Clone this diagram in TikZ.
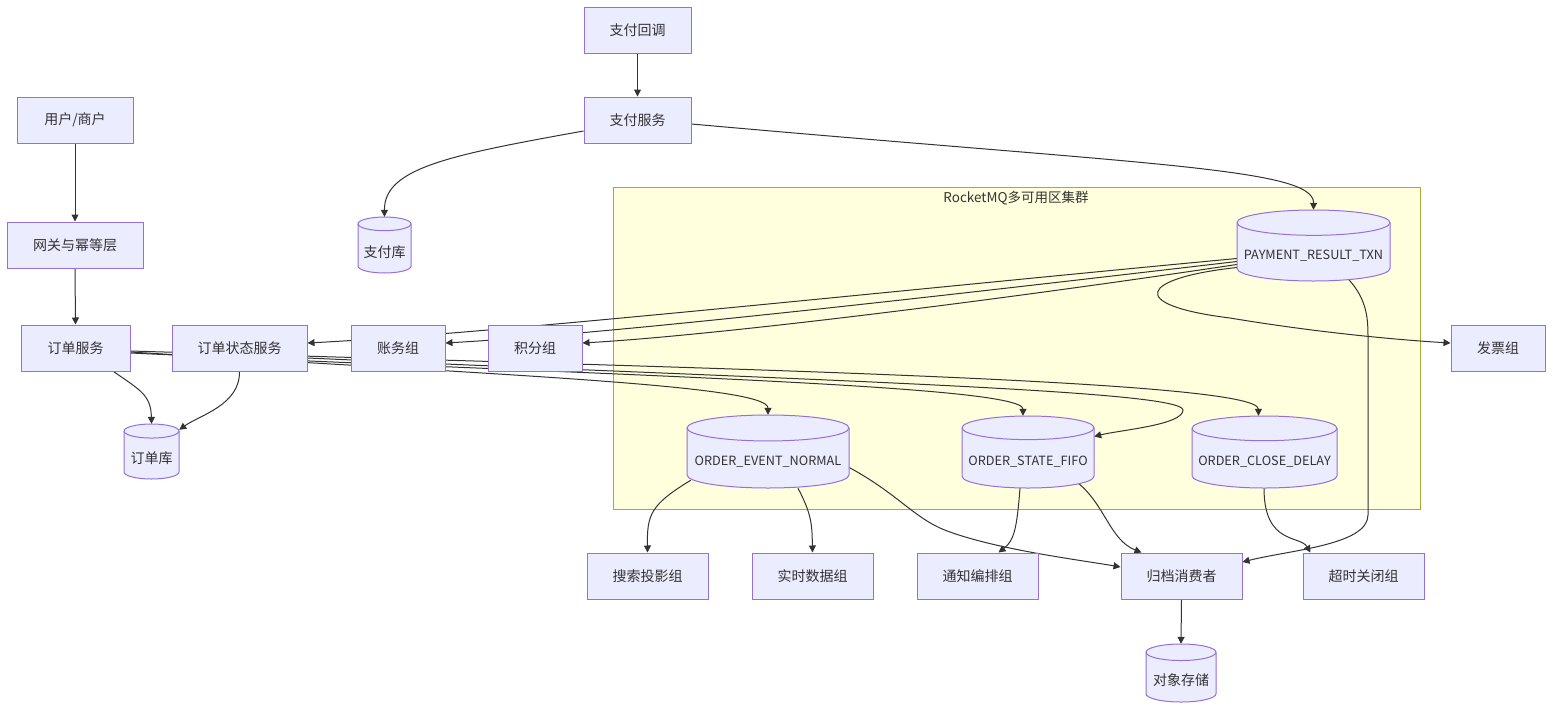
\documentclass[tikz,border=0pt]{standalone}
\usepackage{fontspec}
\setmainfont{Noto Sans CJK SC}
\usetikzlibrary{arrows.meta,calc}
\definecolor{nodefill}{HTML}{ECECFF}
\definecolor{nodeline}{HTML}{9370DB}
\definecolor{clfill}{HTML}{FFFFDE}
\definecolor{clline}{HTML}{AAAA33}
\definecolor{ink}{HTML}{333333}
\pgfdeclarelayer{bg}
\pgfdeclarelayer{edges}
\pgfsetlayers{bg,edges,main}
\tikzset{
  box/.style={draw=nodeline, fill=nodefill, line width=1pt, inner sep=0pt, minimum height=46pt, text=ink, font=\fontsize{14}{16}\selectfont},
  cylbody/.style={draw=nodeline, fill=nodefill, line width=1pt},
  cylline/.style={draw=nodeline, line width=1pt},
  txt/.style={text=ink, inner sep=0pt, font=\fontsize{14}{16}\selectfont},
  edge/.style={draw=ink, line width=1pt, -{Triangle[length=7pt,width=7pt]}},
}
\newcommand\latinlbl{\fontsize{12.7}{15}\selectfont}
\newcommand\mycyl[6]{%
  \pgfmathsetmacro\cylRX{(#3-#2)/2}%
  \pgfmathsetmacro\cylRY{0.92*\cylRX/(2.5+(#3-#2)/50)}%
  \pgfmathsetmacro\cylCX{(#2+#3)/2}%
  \pgfmathsetmacro\cylT{-#4-\cylRY}%
  \pgfmathsetmacro\cylU{-#5+\cylRY}%
  \pgfmathsetmacro\cylW{#3-#2}%
  \pgfmathsetmacro\cylH{#5-#4}%
  \pgfmathsetmacro\cylM{-(#4+#5)/2}%
  \pgfmathsetmacro\cylTY{-(#4+#5)/2-(\cylRY*0.5+3.5)}%
  \path[cylbody] (#2,\cylT) -- (#2,\cylU) arc[start angle=180,end angle=360,x radius=\cylRX pt,y radius=\cylRY pt] -- (#3,\cylT) arc[start angle=0,end angle=180,x radius=\cylRX pt,y radius=\cylRY pt] -- cycle;
  \path[cylline] (#2,\cylT) arc[start angle=180,end angle=360,x radius=\cylRX pt,y radius=\cylRY pt];
  \node[inner sep=0pt, minimum width=\cylW pt, minimum height=\cylH pt] (#1) at (\cylCX,\cylM) {};
  \node[txt] (#1-t) at (\cylCX,\cylTY) {#6};
}
\begin{document}
\begin{tikzpicture}[x=1pt,y=1pt]
\useasboundingbox (0,0) rectangle (1568,-718);
\begin{pgfonlayer}{bg}
  \fill[white] (0,0) rectangle (1568,-718);
  \path[draw=clline, fill=clfill, line width=1pt] (613,-187) rectangle (1420,-509);
  \node[txt, font=\fontsize{13.5}{15}\selectfont] (cltitle) at (1016,-198) {RocketMQ多可用区集群};
\end{pgfonlayer}

% rectangular nodes
\node[box, minimum width=107pt] (cb)  at (637.5,-30)  {支付回调};
\node[box, minimum width=107pt] (ps)  at (637.5,-120) {支付服务};
\node[box, minimum width=116pt] (user) at (75,-120)   {用户/商户};
\node[box, minimum width=136pt] (gw)  at (75,-245)    {网关与幂等层};
\node[box, minimum width=109pt] (os)  at (75.5,-348)  {订单服务};
\node[box, minimum width=135pt] (oss) at (239.5,-348) {订单状态服务};
\node[box, minimum width=94pt]  (acc) at (398,-348)   {账务组};
\node[box, minimum width=94pt]  (pts) at (535,-348)   {积分组};
\node[box, minimum width=94pt]  (inv) at (1498,-348)  {发票组};
\node[box, minimum width=121pt] (srch) at (647.5,-576) {搜索投影组};
\node[box, minimum width=121pt] (rt)  at (812.5,-576) {实时数据组};
\node[box, minimum width=121pt] (ntf) at (977.5,-576) {通知编排组};
\node[box, minimum width=121pt] (arc) at (1181.5,-576) {归档消费者};
\node[box, minimum width=121pt] (tmo) at (1363.5,-576) {超时关闭组};

% cylinders
\mycyl{paydb}{358}{411}{217}{273}{支付库}
\mycyl{odb}{124}{179}{424}{479}{订单库}
\mycyl{prt}{1237}{1390}{210}{281}{\latinlbl PAYMENT\_RESULT\_TXN}
\mycyl{oen}{687}{849}{415}{488}{\latinlbl ORDER\_EVENT\_NORMAL}
\mycyl{osf}{962}{1094}{416}{488}{\latinlbl ORDER\_STATE\_FIFO}
\mycyl{ocd}{1192}{1337}{416}{488}{\latinlbl ORDER\_CLOSE\_DELAY}
\mycyl{obj}{1146}{1216}{644}{702}{对象存储}

\begin{pgfonlayer}{edges}
  \draw[edge] (cb.south) -- (ps.north);
  \draw[edge] (user.south) -- (gw.north);
  \draw[edge] (gw.south) -- (os.north);
  \draw[edge] (arc.south) -- (obj.north);
  \draw[edge] ($(ps.west)+(0,-11)$) .. controls (450,-155) and (384,-168) .. (paydb.north);
  \draw[edge] ($(ps.east)+(0,-4)$) .. controls (1150,-165) and (1314,-168) .. (prt.north);
  \draw[edge] ($(os.south)+(38,0)$) .. controls (140,-390) and (151,-395) .. (odb.north);
  \draw[edge] (oss.south) .. controls (240,-405) and (200,-415) .. ($(odb.north east)+(0,-6)$);
  % payment result consumers
  \draw[edge] ($(prt.west)+(0,-13)$) .. controls (900,-290) and (500,-333) .. ($(oss.east)+(0,5)$);
  \draw[edge] ($(prt.west)+(0,-16)$) .. controls (950,-295) and (620,-333) .. ($(acc.east)+(0,5)$);
  \draw[edge] ($(prt.west)+(0,-19)$) .. controls (1000,-300) and (720,-335) .. ($(pts.east)+(0,5)$);
  \draw[edge] ($(prt.west)+(0,-22)$) .. controls (1140,-278) and (1125,-305) .. (1230,-318) .. controls (1320,-333) and (1400,-340) .. ($(inv.west)+(0,5)$);
  \draw[edge] ($(prt.south)+(34,3)$) .. controls (1368,-300) and (1368,-320) .. (1368,-340) -- (1368,-515) .. controls (1368,-545) and (1290,-550) .. ($(arc.east)+(0,14)$);
  % order service producers
  \draw[edge] ($(os.east)+(0,-4)$) .. controls (500,-375) and (768,-385) .. (oen.north);
  \draw[edge] ($(os.east)+(0,-5)$) .. controls (600,-375) and (1023,-385) .. ($(osf.north)+(-5,0)$);
  \draw[edge] ($(os.east)+(0,-3)$) .. controls (700,-368) and (1258,-380) .. ($(ocd.north)+(-6,0)$);
  \draw[edge] ($(oss.east)+(0,-10)$) .. controls (800,-380) and (1183,-390) .. (1183,-410) .. controls (1183,-425) and (1120,-430) .. ($(osf.east)+(0,15.5)$);
  % topic consumers
  \draw[edge] ($(oen.south west)+(4,8)$) .. controls (650,-505) and (647,-515) .. (srch.north);
  \draw[edge] ($(oen.south)+(30,0)$) .. controls (812,-515) and (812,-525) .. (rt.north);
  \draw[edge] ($(oen.east)+(0,-16)$) .. controls (900,-495) and (915,-520) .. (950,-532) .. controls (1000,-550) and (1080,-560) .. ($(arc.west)+(0,9)$);
  \draw[edge] ($(osf.south)+(-8,0)$) .. controls (1017,-525) and (1015,-540) .. ($(ntf.north)+(21,0)$);
  \draw[edge] ($(osf.south east)+(-16,5)$) .. controls (1105,-505) and (1110,-540) .. ($(arc.north)+(-40,0)$);
  \draw[edge] ($(ocd.south)+(-0.5,0)$) .. controls (1264,-545) and (1300,-535) .. ($(tmo.north)+(-53,0)$);
\end{pgfonlayer}
\end{tikzpicture}
\end{document}
